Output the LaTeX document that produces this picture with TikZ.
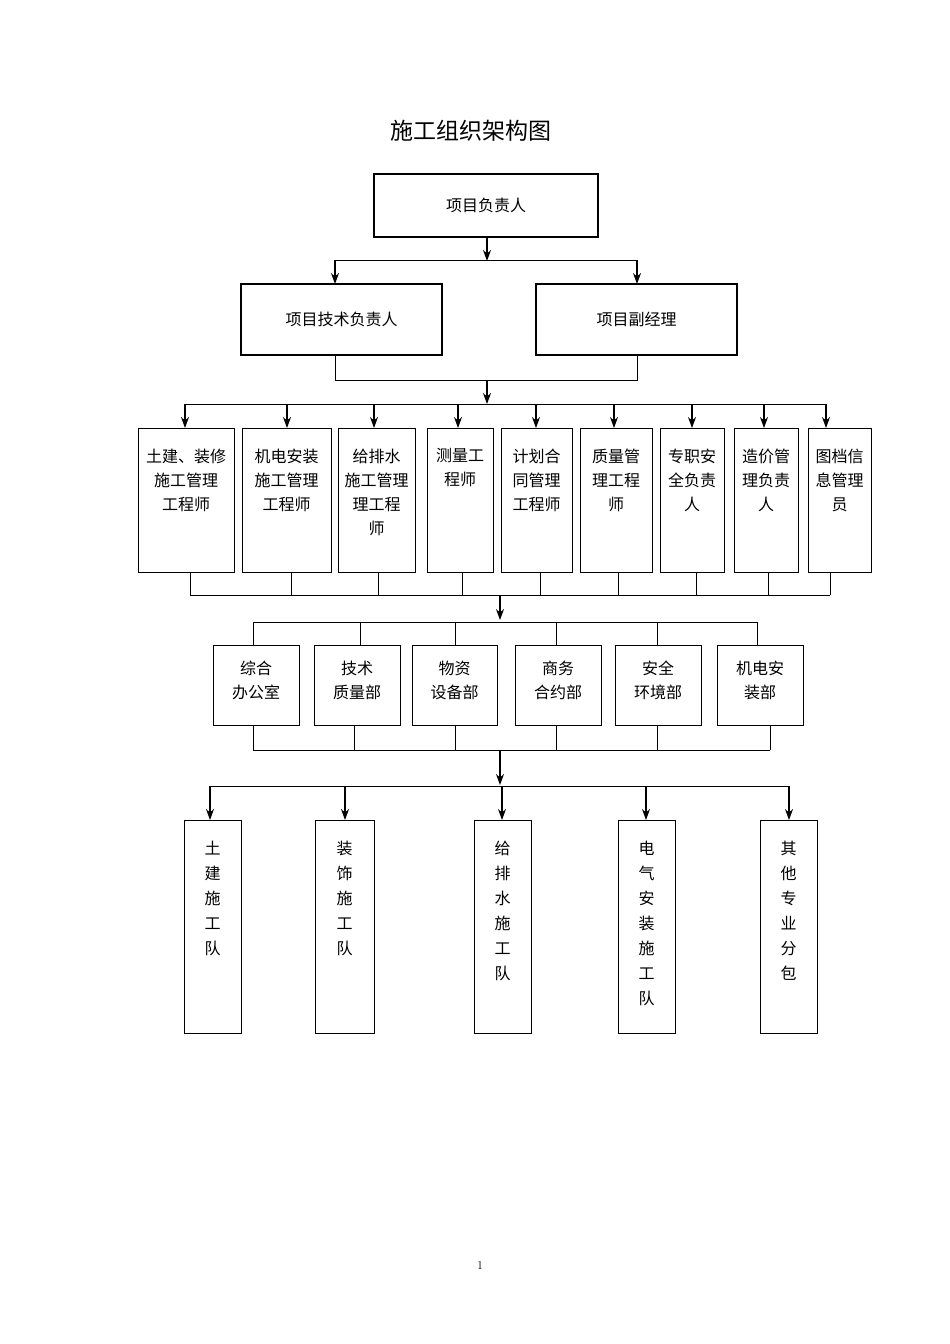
\documentclass[tikz,border=0pt]{standalone}
\usepackage{fontspec}
\usetikzlibrary{arrows.meta}
\newfontfamily\cjk{Noto Sans CJK SC}
\begin{document}
\begin{tikzpicture}[x=1pt,y=-1pt,
  bx/.style={draw,line width=1.2pt,align=center,inner sep=0pt,font=\cjk\fontsize{16}{24}\selectfont},
  ln/.style={line width=1pt},
  ar/.style={line width=1.2pt,-{Stealth[length=11pt,width=8pt]}}]
\useasboundingbox (0,0) rectangle (950,1344);
\node[font=\cjk\fontsize{23}{26}\selectfont] (title) at (471,131) {施工组织架构图};
\node[font=\fontsize{12}{14}\selectfont] (pg) at (480,1265) {1};
% level 1
\node[bx,minimum width=224,minimum height=63] (top) at (486,205.5) {项目负责人};
\node[bx,minimum width=201,minimum height=71] (a1) at (341.5,319.5) {项目技术负责人};
\node[bx,minimum width=201,minimum height=71] (a2) at (636.5,319.5) {项目副经理};
\coordinate (j1) at (487,261);
\draw[ar] (top.south -| j1) -- (j1);
\draw[ln] (335,260) -- (637,260);
\draw[ar] (335,260) -- (335,284);
\draw[ar] (637,260) -- (637,284);
\draw[ln] (335,355) -- (335,380) -- (637,380) -- (637,355);
\draw[ar] (487,380) -- (487,404);
\draw[ln] (185,404) -- (826,404);
% level 3
\foreach \n/\l/\r/\ax/\bxx/\t in {
 b1/138/234/185/190/{土建、装修\\施工管理\\工程师},
 b2/242/331/287/291/{机电安装\\施工管理\\工程师},
 b3/338/415/374/378/{给排水\\施工管理\\理工程\\师},
 b4/427/493/458/462/{测量工\\程师},
 b5/501/572/536/540/{计划合\\同管理\\工程师},
 b6/580/652/614/618/{质量管\\理工程\\师},
 b7/660/724/692/696/{专职安\\全负责\\人},
 b8/734/798/764/768/{造价管\\理负责\\人},
 b9/808/871/826/830/{图档信\\息管理\\员}}{
 \node[bx,minimum width=\r-\l,minimum height=144,anchor=north west] (\n) at (\l,428) {};
 \node[bx,draw=none,anchor=north] (\n t) at ({(\l+\r)/2},448) {\t};
 \draw[ar] (\ax,404) -- (\ax,428);
 \draw[ln] (\bxx,572) -- (\bxx,595);
}
\draw[ln] (190,595) -- (830,595);
\draw[ar] (500,595) -- (500,620);
\draw[ln] (253,622) -- (757,622);
% level 4
\foreach \n/\l/\r/\tx/\bxx/\t in {
 c1/213/299/253/253/{综合\\办公室},
 c2/314/400/360/354/{技术\\质量部},
 c3/412/497/455/455/{物资\\设备部},
 c4/515/601/556/556/{商务\\合约部},
 c5/615/701/657/657/{安全\\环境部},
 c6/717/803/757/770/{机电安\\装部}}{
 \node[bx,minimum width=\r-\l,minimum height=80,anchor=north west] (\n) at (\l,645) {};
 \node[bx,draw=none,anchor=north] (\n t) at ({(\l+\r)/2},660) {\t};
 \draw[ln] (\tx,622) -- (\tx,645);
 \draw[ln] (\bxx,725) -- (\bxx,750);
}
\draw[ln] (253,750) -- (770,750);
\draw[ar] (500,750) -- (500,785);
\draw[ln] (210,786) -- (789,786);
% level 5
\foreach \n/\l/\r/\ax/\t in {
 d1/184/241/210/{土\\建\\施\\工\\队},
 d2/315/374/345/{装\\饰\\施\\工\\队},
 d3/474/531/502/{给\\排\\水\\施\\工\\队},
 d4/618/675/646/{电\\气\\安\\装\\施\\工\\队},
 d5/760/817/789/{其\\他\\专\\业\\分\\包}}{
 \node[bx,minimum width=\r-\l,minimum height=213,anchor=north west] (\n) at (\l,820) {};
 \node[bx,draw=none,anchor=north,font=\cjk\fontsize{16}{25}\selectfont] (\n t) at ({(\l+\r)/2},840) {\t};
 \draw[ar] (\ax,786) -- (\ax,820);
}
\end{tikzpicture}
\end{document}
